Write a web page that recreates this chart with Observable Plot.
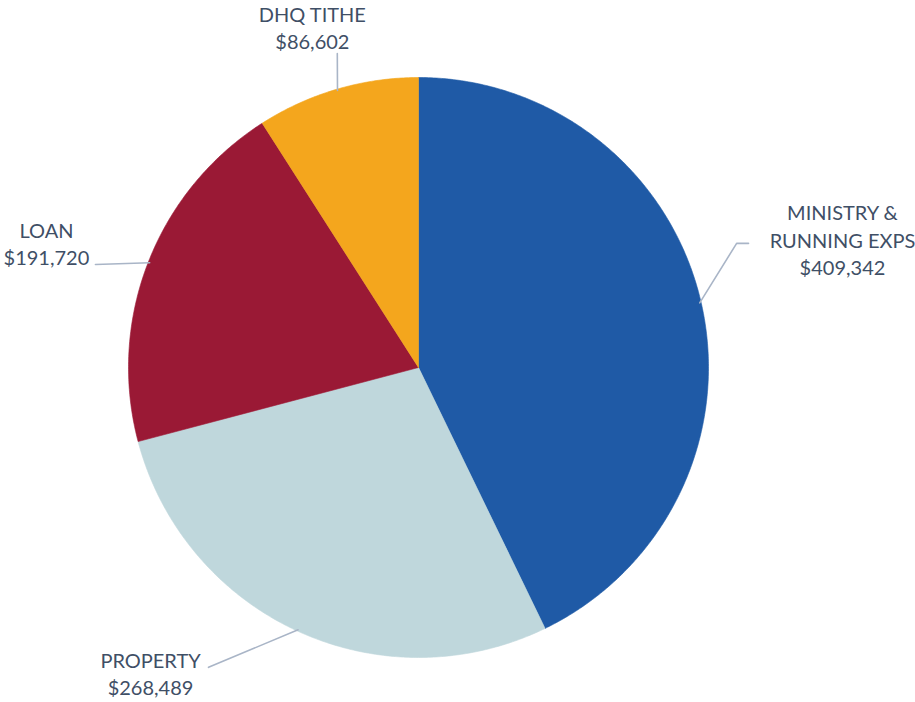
<!DOCTYPE html>
<html>
<head>
<meta charset="utf-8">
<script src="https://cdn.jsdelivr.net/npm/d3@7"></script>
<script src="https://cdn.jsdelivr.net/npm/@observablehq/plot@0.6"></script>
<style>
  html, body { margin: 0; padding: 0; background: #ffffff; }
  #chart svg { display: block; }
</style>
</head>
<body>
<div id="chart"></div>
<script>
// ---- data ----
const categories = ["MINISTRY & RUNNING EXPS", "PROPERTY", "LOAN", "DHQ TITHE"];
const labelText = ["MINISTRY &\nRUNNING EXPS", "PROPERTY", "LOAN", "DHQ TITHE"];
const values = [409342, 268489, 191720, 86602];
const colors = ["#1f5aa6", "#bfd7dc", "#9a1935", "#f4a61d"];

// ---- layout (in pie-radius units, center at 0,0) ----
const labelPos = [[1.462, 0.443], [-0.924, -1.052], [-1.283, 0.431], [-0.366, 1.175]];
const leaderBends = [
  [[1.097, 0.428], [1.138, 0.428]],
  [[-0.724, -1.034]],
  [[-1.114, 0.355]],
  [[-0.28, 1.083]]
];

const W = 915, H = 702, R = 290, CX = 418, CY = 367;

const arcs = d3.pie().sort(null).value(d => d)(values);

const slices = arcs.map((a, i) => {
  const pts = [{x: 0, y: 0}];
  const n = Math.max(2, Math.ceil((a.endAngle - a.startAngle) / (Math.PI / 360)));
  for (let k = 0; k <= n; k++) {
    const t = a.startAngle + (a.endAngle - a.startAngle) * k / n;
    pts.push({x: Math.sin(t), y: Math.cos(t)});
  }
  pts.push({x: 0, y: 0});
  return pts;
});

const leaders = arcs.map((a, i) => {
  const m = (a.startAngle + a.endAngle) / 2;
  const pts = [{x: Math.sin(m) * 0.995, y: Math.cos(m) * 0.995}];
  leaderBends[i].forEach(([x, y]) => pts.push({x, y}));
  return pts;
});

const labels = categories.map((c, i) => ({
  x: labelPos[i][0],
  y: labelPos[i][1],
  text: labelText[i] + "\n$" + d3.format(",")(values[i])
}));

const chart = Plot.plot({
  width: W,
  height: H,
  margin: 0,
  x: {domain: [-CX / R, (W - CX) / R], axis: null},
  y: {domain: [-(H - CY) / R, CY / R], axis: null},
  style: {fontFamily: "Lato, 'Open Sans', sans-serif", background: "#ffffff"},
  marks: [
    ...slices.map((pts, i) => Plot.line(pts, {x: "x", y: "y", fill: colors[i], stroke: colors[i], strokeWidth: 0.6, curve: "linear"})),
    ...leaders.map(pts => Plot.line(pts, {x: "x", y: "y", stroke: "#a9b5c7", strokeWidth: 1.6, curve: "linear"})),
    Plot.text(labels, {x: "x", y: "y", text: "text", fontSize: 20, lineHeight: 1.38, fill: "#3f4f66", textAnchor: "middle"})
  ]
});

document.getElementById("chart").appendChild(chart);
</script>
</body>
</html>
